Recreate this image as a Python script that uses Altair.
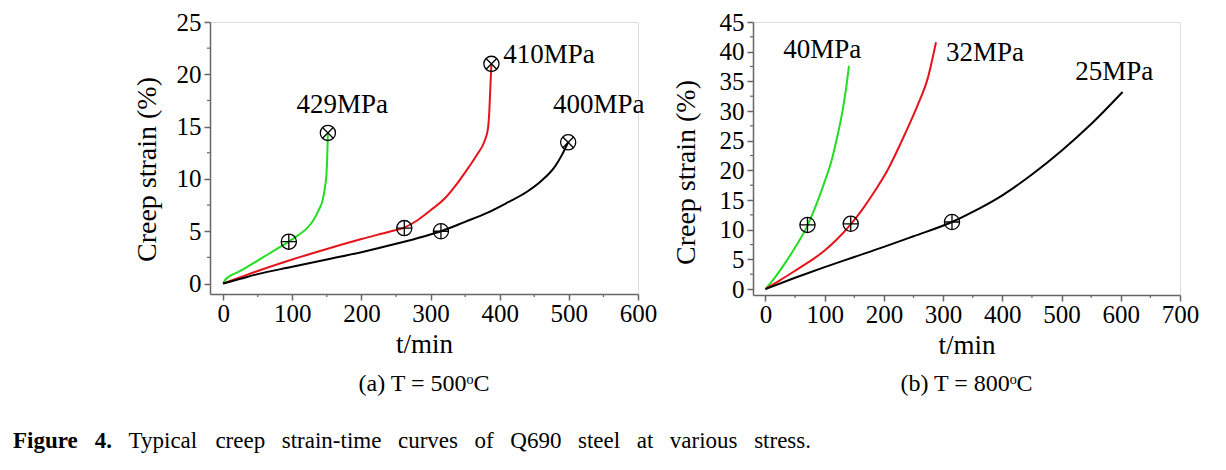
import altair as alt
import pandas as pd

FONT = "Liberation Serif"

# ---------------- (a) T = 500 C ----------------
a_series = ["429MPa", "410MPa", "400MPa"]
a_colors = ["#22dd22", "#e5141b", "#000000"]

t_429 = [0, 3, 8, 20, 35, 50, 65, 80, 95, 108, 120, 130, 138, 144, 147.5, 149.5, 150.5, 151, 151.5]
e_429 = [0, 0.35, 0.65, 1.05, 1.6, 2.2, 2.8, 3.4, 4.0, 4.6, 5.2, 6.0, 7.0, 8.0, 9.3, 10.5, 12.0, 13.2, 14.4]

t_410 = [0, 25, 50, 100, 150, 200, 240, 262, 280, 300, 320, 340, 355, 368, 378, 383, 385, 386.5, 388]
e_410 = [0, 0.6, 1.2, 2.3, 3.3, 4.25, 4.95, 5.35, 6.0, 7.0, 8.1, 9.7, 11.1, 12.4, 13.6, 14.8, 16.5, 18.8, 21.0]

t_400 = [0, 25, 50, 100, 150, 200, 250, 290, 315, 350, 380, 410, 440, 460, 480, 490, 499]
e_400 = [0, 0.45, 0.9, 1.6, 2.3, 3.0, 3.8, 4.5, 5.0, 5.9, 6.7, 7.7, 8.8, 9.8, 11.2, 12.3, 13.5]

a_plus_t = [95, 262, 315]
a_plus_e = [4.0, 5.3, 5.0]
a_cross_t = [151.5, 388, 499]
a_cross_e = [14.4, 21.0, 13.5]

a_label_t = [106, 405, 477]
a_label_e = [16.3, 21.1, 16.3]

a_xticks = [0, 100, 200, 300, 400, 500, 600]
a_xminor = [50, 150, 250, 350, 450, 550]
a_yticks = [0, 5, 10, 15, 20, 25]
a_yminor = [2.5, 7.5, 12.5, 17.5, 22.5]

# ---------------- (b) T = 800 C ----------------
b_series = ["40MPa", "32MPa", "25MPa"]
b_colors = ["#22dd22", "#e5141b", "#000000"]

t_40 = [0, 15, 30, 50, 71, 85, 100, 112, 122, 131, 137, 141]
e_40 = [0, 1.8, 3.9, 7.0, 10.7, 14.0, 18.1, 21.8, 26.0, 30.5, 34.4, 37.6]

t_32 = [0, 25, 55, 80, 100, 120, 144, 165, 180, 207, 235, 257, 274, 288]
e_32 = [0, 1.5, 3.4, 5.0, 6.5, 8.3, 10.9, 13.6, 15.8, 20.2, 26.0, 31.0, 35.5, 41.6]

t_25 = [0, 50, 100, 150, 200, 250, 315, 350, 400, 450, 500, 550, 603]
e_25 = [0, 1.9, 3.7, 5.4, 7.1, 8.9, 11.3, 13.0, 15.8, 19.3, 23.3, 27.8, 33.2]

b_plus_t = [71, 144, 315]
b_plus_e = [10.8, 11.0, 11.3]

b_label_t = [30, 305, 523]
b_label_e = [38.9, 38.5, 35.3]

b_xticks = [0, 100, 200, 300, 400, 500, 600, 700]
b_xminor = [50, 150, 250, 350, 450, 550, 650]
b_yticks = [0, 5, 10, 15, 20, 25, 30, 35, 40, 45]
b_yminor = [2.5, 7.5, 12.5, 17.5, 22.5, 27.5, 32.5, 37.5, 42.5]

caption_words = ["Figure", "4.", "Typical", "creep", "strain-time", "curves",
                 "of", "Q690", "steel", "at", "various", "stress."]
caption_bold = [True, True, False, False, False, False,
                False, False, False, False, False, False]

FRAME = "#666666"
PLUS = "M-1,0L1,0M0,-1L0,1"
CROSS = "M-0.7071,-0.7071L0.7071,0.7071M-0.7071,0.7071L0.7071,-0.7071"

# Times-metric glyph widths (per 1000 em) used to justify the caption line
W_REG = {" ": 250, "F": 556, "i": 278, "g": 500, "u": 500, "r": 333, "e": 444, "4": 500,
         ".": 250, "T": 611, "y": 500, "p": 500, "c": 444, "a": 444, "l": 278, "s": 389,
         "t": 278, "n": 500, "-": 333, "m": 778, "v": 500, "o": 500, "f": 333, "Q": 722,
         "6": 500, "9": 500, "0": 500}
W_BOLD = dict(W_REG, F=611, u=556, r=444)
CAP_FS = 23
CAP_X0, CAP_X1, CAP_Y = 12, 810, 447
PLOT_X0, PLOT_Y0 = 209, 21


def word_width(w, bold):
    tab = W_BOLD if bold else W_REG
    return sum(tab.get(c, 500) for c in w) / 1000.0 * CAP_FS


widths = [word_width(w, b) for w, b in zip(caption_words, caption_bold)]
gap = (CAP_X1 - CAP_X0 - sum(widths)) / (len(caption_words) - 1)
cap_x = []
cur = CAP_X0
for wd in widths:
    cap_x.append(cur)
    cur += wd + gap


def panel(series, colors, ts, es, plus_t, plus_e, cross_t, cross_e, lab_t, lab_e,
          xdom, ydom, xticks, xminor, yticks, yminor, w, h, sub, title_y, ytp):
    xs = alt.Scale(domain=xdom, nice=False, zero=False)
    ys = alt.Scale(domain=ydom, nice=False, zero=False)
    xax = alt.Axis(values=xticks, title="t/min", titleFont=FONT, titleFontSize=27,
                   titleFontWeight="normal", titleColor="black", titlePadding=5,
                   labelFont=FONT, labelFontSize=25, labelColor="black", labelPadding=1,
                   labelFlush=False, labelOverlap=False, tickSize=6, tickColor=FRAME,
                   tickWidth=1.5, domainColor=FRAME, domainWidth=1.5, grid=False, format="d")
    yax = alt.Axis(values=yticks, title="Creep strain (%)", titleFont=FONT, titleFontSize=28,
                   titleFontWeight="normal", titleColor="black", titlePadding=ytp,
                   titleY=title_y, labelFont=FONT, labelFontSize=25, labelColor="black",
                   labelPadding=3, labelFlush=False, labelOverlap=False, tickSize=6,
                   tickColor=FRAME, tickWidth=1.5, domainColor=FRAME, domainWidth=1.5,
                   grid=False, format="d")

    def X():
        return alt.X("t:Q", scale=xs, axis=xax)

    def Y():
        return alt.Y("e:Q", scale=ys, axis=yax)

    rows = []
    for s, tt, ee in zip(series, ts, es):
        for i, (a, b) in enumerate(zip(tt, ee)):
            rows.append({"s": s, "t": a, "e": b, "i": i})
    df = pd.DataFrame(rows)

    lines = alt.Chart(df).mark_line(strokeWidth=2, interpolate="monotone").encode(
        x=X(), y=Y(),
        color=alt.Color("s:N", scale=alt.Scale(domain=series, range=colors), legend=None),
        detail="s:N", order="i:Q")

    pdf = pd.DataFrame({"t": plus_t, "e": plus_e})
    layers = [lines]
    layers.append(alt.Chart(pdf).mark_point(shape="circle", size=230, filled=False,
                                            stroke="black", strokeWidth=1.3, opacity=1)
                  .encode(x=X(), y=Y()))
    layers.append(alt.Chart(pdf).mark_point(shape=PLUS, size=230, filled=False,
                                            stroke="black", strokeWidth=1.3, opacity=1)
                  .encode(x=X(), y=Y()))
    if cross_t:
        cdf = pd.DataFrame({"t": cross_t, "e": cross_e})
        layers.append(alt.Chart(cdf).mark_point(shape="circle", size=230, filled=False,
                                                stroke="black", strokeWidth=1.3, opacity=1)
                      .encode(x=X(), y=Y()))
        layers.append(alt.Chart(cdf).mark_point(shape=CROSS, size=230, filled=False,
                                                stroke="black", strokeWidth=1.3, opacity=1)
                      .encode(x=X(), y=Y()))

    ldf = pd.DataFrame({"t": lab_t, "e": lab_e, "lab": series})
    layers.append(alt.Chart(ldf).mark_text(align="left", baseline="alphabetic", font=FONT,
                                           fontSize=27, color="black")
                  .encode(x=X(), y=Y(), text="lab:N"))

    # minor ticks
    layers.append(alt.Chart(pd.DataFrame({"t": xminor})).mark_rule(color=FRAME, strokeWidth=1.2)
                  .encode(x=X(), y=alt.value(h), y2=alt.value(h + 3)))
    layers.append(alt.Chart(pd.DataFrame({"e": yminor})).mark_rule(color=FRAME, strokeWidth=1.2)
                  .encode(y=Y(), x=alt.value(0), x2=alt.value(-3)))

    # sub-caption under the panel
    layers.append(alt.Chart(pd.DataFrame({"c": [sub]})).mark_text(
        align="center", baseline="alphabetic", font=FONT, fontSize=24, color="black")
        .encode(x=alt.value(w / 2), y=alt.value(390 - PLOT_Y0), text="c:N"))
    return layers


left_layers = panel(a_series, a_colors, [t_429, t_410, t_400], [e_429, e_410, e_400],
                    a_plus_t, a_plus_e, a_cross_t, a_cross_e, a_label_t, a_label_e,
                    [-19, 600], [-1, 25], a_xticks, a_xminor, a_yticks, a_yminor,
                    428, 272, "(a) T = 500ᵒC", 147, 15)

# figure caption words (justified line under both panels)
for wd, bx, px in zip(caption_words, caption_bold, cap_x):
    left_layers.append(
        alt.Chart(pd.DataFrame({"w": [wd]})).mark_text(
            align="left", baseline="alphabetic", font=FONT, fontSize=CAP_FS,
            fontWeight="bold" if bx else "normal", color="black")
        .encode(x=alt.value(px - PLOT_X0), y=alt.value(CAP_Y - PLOT_Y0), text="w:N"))

right_layers = panel(b_series, b_colors, [t_40, t_32, t_25], [e_40, e_32, e_25],
                     b_plus_t, b_plus_e, [], [], b_label_t, b_label_e,
                     [-21, 700], [-1, 45], b_xticks, b_xminor, b_yticks, b_yminor,
                     427, 273, "(b) T = 800ᵒC", 150, 19)

left = alt.layer(*left_layers).properties(width=428, height=272)
right = alt.layer(*right_layers).properties(width=427, height=273)

chart = alt.hconcat(left, right, spacing=115, bounds="flush").properties(
    padding={"top": 1, "left": 4, "right": 0, "bottom": 0}
).configure_view(stroke=FRAME, strokeWidth=1.5).configure(background="white")

chart.save("out.html", embed_options={"renderer": "svg", "actions": False})
